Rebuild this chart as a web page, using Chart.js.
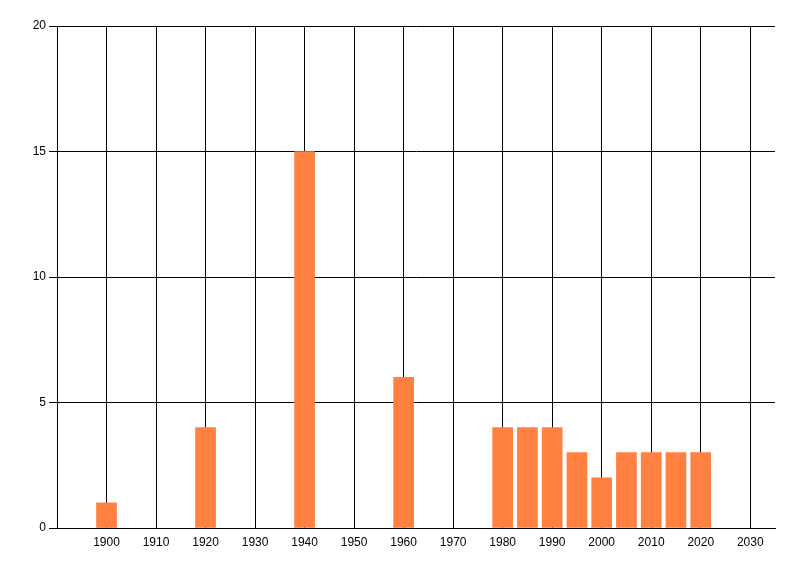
<!DOCTYPE html>
<html>
<head>
<meta charset="utf-8">
<script src="https://cdn.jsdelivr.net/npm/chart.js@4/dist/chart.umd.min.js"></script>
<style>
  html, body { margin: 0; padding: 0; background: #ffffff; }
  #wrap { width: 800px; height: 576px; }
</style>
</head>
<body>
<div id="wrap"><canvas id="chart"></canvas></div>
<script>
  // Werte
  const years = [1900, 1920, 1940, 1960, 1980, 1985, 1990, 1995, 2000, 2005, 2010, 2015, 2020];
  const counts = [1, 4, 15, 6, 4, 4, 4, 3, 2, 3, 3, 3, 3];
  const xTicks = [1900, 1910, 1920, 1930, 1940, 1950, 1960, 1970, 1980, 1990, 2000, 2010, 2020, 2030];
  const yTicks = [0, 5, 10, 15, 20];

  const BAR = 'rgb(255, 128, 64)';
  const LINE = '#000000';

  Chart.defaults.font.family = '"Liberation Sans Narrow", "Liberation Sans", sans-serif';
  Chart.defaults.font.size = 12;
  Chart.defaults.color = '#000000';

  new Chart(document.getElementById('chart'), {
    type: 'bar',
    data: {
      datasets: [{
        data: years.map((year, i) => ({ x: year, y: counts[i] })),
        backgroundColor: BAR,
        borderWidth: 0,
        barThickness: 20,
      }],
    },
    options: {
      responsive: true,
      maintainAspectRatio: false,
      animation: false,
      layout: { padding: { top: 26, right: 25, left: 0, bottom: 0 } },
      plugins: {
        legend: { display: false },
        tooltip: { enabled: false },
      },
      scales: {
        x: {
          type: 'linear',
          min: 1890,
          max: 2035,
          offset: false,
          afterBuildTicks: (scale) => { scale.ticks = xTicks.map((v) => ({ value: v })); },
          afterFit: (scale) => { scale.height = 48; },
          // Gitterlinien genau auf den Ticks, nicht dazwischen
          grid: { color: LINE, lineWidth: 1, drawTicks: false, offset: false },
          border: { color: LINE, width: 1 },
          ticks: { padding: 7, maxRotation: 0, autoSkip: false, callback: (v) => String(v) },
        },
        y: {
          min: 0,
          max: 20,
          afterBuildTicks: (scale) => { scale.ticks = yTicks.map((v) => ({ value: v })); },
          afterFit: (scale) => { scale.width = 57; },
          grid: { color: LINE, lineWidth: 1, drawTicks: true, tickLength: 8 },
          border: { color: LINE, width: 1 },
          ticks: { padding: 3 },
        },
      },
    },
  });
</script>
</body>
</html>
